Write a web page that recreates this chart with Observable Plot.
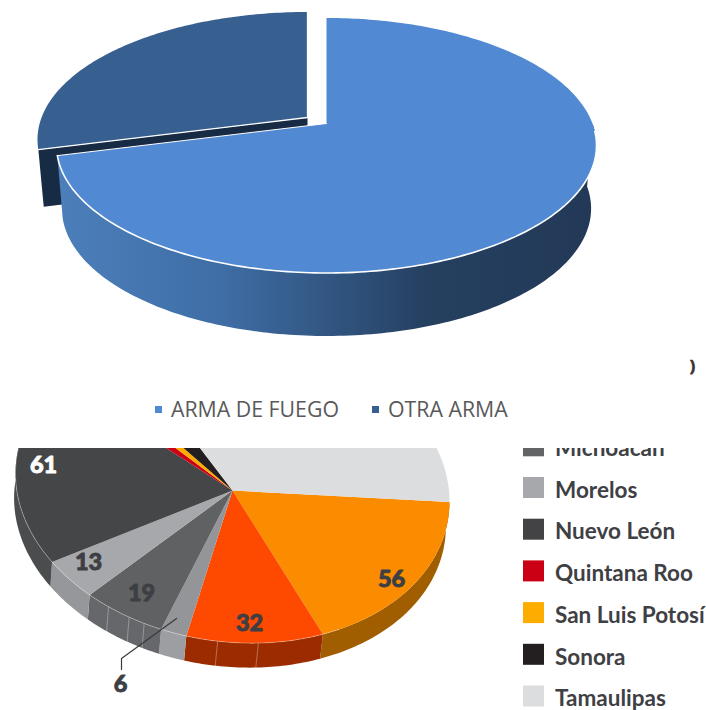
<!DOCTYPE html>
<html><head><meta charset="utf-8">
<style>html,body{margin:0;padding:0;background:#fff}svg{display:block}</style>
<script src="https://cdn.jsdelivr.net/npm/d3@7"></script>
<script src="https://cdn.jsdelivr.net/npm/@observablehq/plot@0.6"></script>
</head><body><div id="chart"></div>
<script>
// ---- data: top pie
const weaponNames = ["ARMA DE FUEGO", "OTRA ARMA"];
const weaponValues = [71, 29];
const weaponColors = ["#5289d3", "#375f8f"];
// ---- data: bottom pie (clockwise from the orange slice)
const stateValues = [56, 32, 6, 19, 13, 61, 4, 4, 10, 101];
const stateLabels = ["56", "32", "6", "19", "13", "61", "", "", "", ""];
const stateTop  = ["#fb8c00", "#fd4a00", "#939598", "#606163", "#a7a8ab", "#454648", "#cc0014", "#ffac00", "#231f20", "#dcdddf"];
const stateWall = ["#a15e00", "#9c2b00", "#9d9ea1", "#66676a", "#96979a", "#4b4c4e", "#800010", "#a07000", "#111111", "#a9aaac"];
const legendNames = ["Michoacán", "Morelos", "Nuevo León", "Quintana Roo", "San Luis Potosí", "Sonora", "Tamaulipas"];
const legendColors = ["#636466", "#a7a8ab", "#434345", "#cc0014", "#ffac00", "#231f20", "#dcdddf"];
const wallSeams = [173, 184, 204.5, 209, 215.5];

// ---- layout
const deg = Math.PI / 180;
const topPie = {cx: 326, cy: 145, rx: 270, ry: 127.5, a: -0.1725, k: 0, dy: 63, sx: 0.98};
const botPie = {cx: 232, cy: 487, rx: 217, ry: 155, a: 0.02, k: 14, dy: 24.5, sx: 0.995};
const offset = [-19, -6];

function pt(p, th, r = 1, shift = [0, 0]) {
  const u = r * Math.sin(th), v = -r * Math.cos(th);
  const s = Math.sqrt(1 - p.a * p.a), w = 1 + p.a * v;
  const X = u * s / w, Y = (v + p.a) / w;
  return [p.cx + p.rx * X + shift[0], p.cy + p.ry * Y + p.k * X + shift[1]];
}
function low(p, q, shift = [0, 0]) {
  const c = p.cx + shift[0];
  return [c + (q[0] - c) * p.sx - (p === botPie ? 2.5 : 0), q[1] + p.dy - (p === topPie && shift[0] ? 6 : 0)];
}
function arc(p, a0, a1, shift) {
  const n = Math.max(2, Math.ceil(Math.abs(a1 - a0) / deg));
  return d3.range(n + 1).map(i => pt(p, a0 + (a1 - a0) * i / n, 1, shift));
}
function wedge(p, a0, a1, shift) { return [pt(p, 0, 0, shift), ...arc(p, a0, a1, shift)]; }
function wall(p, a0, a1, shift) { const t = arc(p, a0, a1, shift); return [...t, ...t.map(q => low(p, q, shift)).reverse()]; }
const X = d => d[0], Y = d => d[1];
const poly = (pts, fill, o = {}) => Plot.line(pts, {x: X, y: Y, fill, stroke: "none", ...o});
const edge = (pts, stroke, strokeWidth, o = {}) => Plot.line(pts, {x: X, y: Y, stroke, strokeWidth, ...o});

// ---- top pie angles
const topArcs = d3.pie().sort(null)(weaponValues);
const b0 = topArcs[0].startAngle, b1 = topArcs[0].endAngle, d1 = topArcs[1].endAngle;

const gradient = () => {
  const defs = d3.create("svg:defs");
  const g = defs.append("linearGradient").attr("id", "wallFill").attr("gradientUnits", "userSpaceOnUse")
    .attr("x1", 55).attr("x2", 600).attr("y1", 0).attr("y2", 0);
  [[0, "#4c7fbb"], [0.3, "#3f6ea6"], [0.55, "#2e5079"], [0.68, "#254060"], [1, "#233857"]]
    .forEach(([o, c]) => g.append("stop").attr("offset", o).attr("stop-color", c));
  return defs.node();
};

const sidePts = [pt(topPie, 0, 0, offset), pt(topPie, b1, 1, offset)];
const topFont = {fontFamily: "'Open Sans', sans-serif", fontSize: 21.3, fill: "#595959", textAnchor: "start"};
const plotTop = Plot.plot({
  width: 706, height: 448, margin: 0,
  x: {domain: [0, 706], range: [0, 706], axis: null},
  y: {domain: [0, 448], range: [0, 448], axis: null},
  marks: [
    gradient,
    // detached slice: cut face, top, white edges
    poly([...sidePts, ...sidePts.map(q => low(topPie, q, offset)).reverse()], "#172b45"),
    poly(wedge(topPie, b1, d1, offset), weaponColors[1]),
    edge([pt(topPie, b1, 1, offset), pt(topPie, 0, 0, offset), pt(topPie, d1, 1, offset)], "#fff", 1.3),
    // main slice
    poly(wall(topPie, Math.PI * 0.5, b1), "url(#wallFill)"),
    poly(wedge(topPie, b0, b1), weaponColors[0]),
    edge(arc(topPie, Math.PI * 0.52, b1), "#fff", 1.6),
    edge([pt(topPie, b1), pt(topPie, 0, 0)], "#fff", 1),
    // legend
    Plot.rect(weaponNames, {x1: (d, i) => [155, 372][i], x2: (d, i) => [162, 379][i], y1: 406, y2: 413, fill: (d, i) => weaponColors[i]}),
    Plot.text(weaponNames, {x: (d, i) => [170.5, 387.5][i], y: 410, text: d => d, ...topFont}),
    Plot.text([")"], {x: 692, y: 366, text: d => d, fontSize: 16, fontWeight: 700, stroke: "#3b3030", strokeWidth: 0.6, fill: "#3b3030", fontFamily: "'Open Sans', sans-serif"})
  ]
});

// ---- bottom pie angles (start just before 3 o'clock)
const start = 89 * deg;
const botArcs = d3.pie().sort(null).startAngle(start).endAngle(start + 2 * Math.PI)(stateValues);
const frontMin = 75 * deg, frontMax = 285 * deg;
const walls = botArcs.filter(s => s.startAngle < frontMax).map(s => poly(
  wall(botPie, Math.max(s.startAngle, s.index === 0 ? frontMin : s.startAngle), Math.min(s.endAngle, frontMax)), stateWall[s.index]));
const seamMarks = wallSeams.map(a => {
  const q = pt(botPie, a * deg);
  return edge([q, low(botPie, q)], "#ffffff", 0.7, {strokeOpacity: 0.45});
});
const labelFont = {fontFamily: "Lato, sans-serif", fontWeight: 900, fontSize: 23.5, strokeWidth: 0.9};
const labelAt = {"61": [43, 465], "13": [88, 562], "19": [141, 593], "32": [249, 623], "56": [391, 579], "6": [120, 684]};
const shown = stateLabels.filter(d => d);
const labelColor = d => d === "61" ? "#fff" : "#3d3f44";
const plotBottom = Plot.plot({
  width: 706, height: 262, margin: 0, style: {overflow: "hidden"},
  x: {domain: [0, 706], range: [0, 706], axis: null},
  y: {domain: [448, 710], range: [0, 262], axis: null},
  marks: [
    ...walls,
    ...seamMarks,
    ...botArcs.map(s => poly(wedge(botPie, s.startAngle, s.endAngle), stateTop[s.index])),
    edge(arc(botPie, 150 * deg, 300 * deg), "#fff", 0.7, {strokeOpacity: 0.45}),
    Plot.line([[176, 618], [121, 658], [121, 669]], {x: X, y: Y, stroke: "#3a3a3c", strokeWidth: 1.2}),
    Plot.text(shown, {x: d => labelAt[d][0], y: d => labelAt[d][1], text: d => d,
      fill: labelColor, stroke: labelColor, ...labelFont}),
    // legend
    Plot.rect(legendNames, {x1: 523, x2: 544, y1: (d, i) => 435.3 + i * 41.7, y2: (d, i) => 456.3 + i * 41.7, fill: (d, i) => legendColors[i]}),
    Plot.text(legendNames, {x: 554.5, y: (d, i) => 448.3 + i * 41.7, text: d => d, textAnchor: "start",
      fontFamily: "Lato, sans-serif", fontWeight: 700, fontSize: 22.5, fill: "#3f4044"})
  ]
});
document.getElementById("chart").append(plotTop, plotBottom);
</script></body></html>
